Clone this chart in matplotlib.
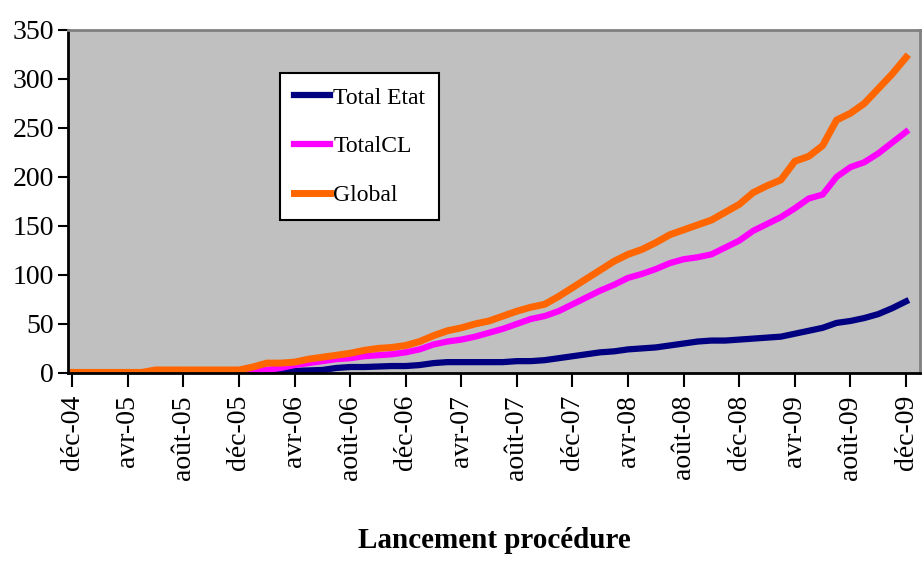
import matplotlib
matplotlib.use("Agg")
import matplotlib.pyplot as plt

plt.rcParams['font.family'] = ['Liberation Serif', 'DejaVu Serif']

# months since déc-04
months = list(range(61))

total_etat = [0, 0, 0, 0, 0, 0, 0, 0, 0, 0, 0, 0, 0, 0,
              0.5, 1, 2, 2.5, 3, 5, 6, 6, 6.5, 7, 7, 8, 10, 11, 11, 11,
              11, 11, 12, 12, 13, 15, 17, 19, 21, 22, 24, 25, 26, 28, 30,
              32, 33, 33, 34, 35, 36, 37, 40, 43, 46, 51, 53, 56, 60, 66, 73]

total_cl = [0, 0, 0, 0, 0, 0, 0, 0, 0, 0, 0, 0,
            0.5, 1.5, 3, 5, 8, 10, 12, 14, 15, 17, 18, 19, 21, 24, 29, 32,
            34, 37, 41, 45, 50, 55, 58, 63, 70, 77, 84, 90, 97, 101, 106,
            112, 116, 118, 121, 128, 135, 145, 152, 159, 168, 178, 182,
            200, 210, 215, 224, 235, 246]

global_tot = [0.5, 0.5, 0.5, 0.5, 0.5, 0.5, 3, 3, 3, 3, 3, 3, 3, 6,
              10, 10, 11, 14, 16, 18, 20, 23, 25, 26, 28, 32, 38, 43, 46,
              50, 53, 58, 63, 67, 70, 78, 87, 96, 105, 114, 121, 126, 133,
              141, 146, 151, 156, 164, 172, 184, 191, 197, 216, 221, 232,
              258, 265, 275, 290, 305, 322]

tick_pos = list(range(0, 61, 4))
tick_labels = ['déc-04', 'avr-05', 'août-05', 'déc-05', 'avr-06', 'août-06',
               'déc-06', 'avr-07', 'août-07', 'déc-07', 'avr-08', 'août-08',
               'déc-08', 'avr-09', 'août-09', 'déc-09']

fig = plt.figure(figsize=(9.24, 5.65), dpi=100)
ax = fig.add_axes([0.0736, 0.34, 0.922, 0.607])
ax.set_facecolor('#c0c0c0')

ax.plot(months, total_etat, color='#000080', lw=4.5, label='Total Etat')
ax.plot(months, total_cl, color='#ff00ff', lw=4.5, label='TotalCL')
ax.plot(months, global_tot, color='#ff6600', lw=5, label='Global')

ax.set_xlim(-0.3, 61)
ax.set_ylim(0, 350)
ax.set_yticks(range(0, 351, 50))
ax.set_xticks(tick_pos)
ax.set_xticklabels(tick_labels, rotation=90, fontsize=20)
ax.tick_params(axis='y', labelsize=20, length=7, width=1.5, direction='out', pad=3)
ax.tick_params(axis='x', length=10, width=1.5, direction='out', pad=6)

for s in ['left', 'bottom']:
    ax.spines[s].set_color('black')
    ax.spines[s].set_linewidth(2)
for s in ['top', 'right']:
    ax.spines[s].set_color('#808080')
    ax.spines[s].set_linewidth(2)

ax.set_xlabel('Lancement procédure', fontsize=21, fontweight='bold', labelpad=34)

leg = ax.legend(loc='upper left', bbox_to_anchor=(0.249, 0.875), fontsize=17,
                frameon=True, fancybox=False, handlelength=1.5,
                labelspacing=1.15, borderpad=0.6, handletextpad=0.15,
                borderaxespad=0)
leg.get_frame().set_edgecolor('black')
leg.get_frame().set_linewidth(1.5)
leg.get_frame().set_facecolor('white')
leg.get_frame().set_alpha(1)

fig.savefig('out.png', dpi=100)
